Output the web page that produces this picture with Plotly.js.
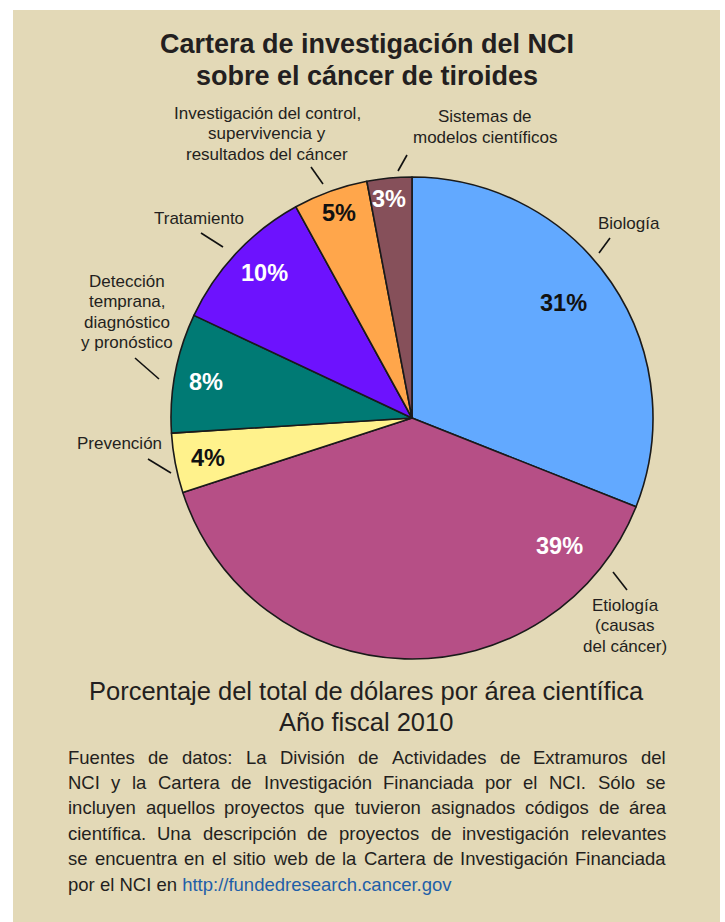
<!DOCTYPE html>
<html><head><meta charset="utf-8">
<script src="https://cdn.plot.ly/plotly-3.0.1.min.js"></script>
<style>html,body{margin:0;padding:0;background:#fff;}#chart{width:725px;height:922px;}</style>
</head><body><div id="chart"></div>
<script>
// ---- data ----
const categories = ["Biología", "Etiología<br>(causas<br>del cáncer)", "Prevención",
  "Detección<br>temprana,<br>diagnóstico<br>y pronóstico", "Tratamiento",
  "Investigación del control,<br>supervivencia y<br>resultados del cáncer",
  "Sistemas de<br>modelos científicos"];
const values = [31, 39, 4, 8, 10, 5, 3];
const sliceColors = ["#62a9ff", "#b64f86", "#fff28c", "#007a74", "#6d12fe", "#ffa64b", "#86505a"];
const percentColors = ["#111111", "#ffffff", "#111111", "#ffffff", "#ffffff", "#111111", "#ffffff"];
const titleLines = ["Cartera de investigación del NCI", "sobre el cáncer de tiroides"];
const subtitleLines = ["Porcentaje del total de dólares por área científica", "Año fiscal 2010"];
const noteLines = [
  "Fuentes de datos: La División de Actividades de Extramuros del",
  "NCI y la Cartera de Investigación Financiada por el NCI. Sólo se",
  "incluyen aquellos proyectos que tuvieron asignados códigos de área",
  "científica. Una descripción de proyectos de investigación relevantes",
  "se encuentra en el sitio web de la Cartera de Investigación Financiada"
];
const noteLastPrefix = "por el NCI en ";
const noteUrl = "http://fundedresearch.cancer.gov";

// ---- layout helpers ----
const W = 725, H = 922;
const px = x => x / W, py = y => 1 - y / H;
const FONT = "Liberation Sans, Arial, Helvetica, sans-serif";
const INK = "#231f20";
const BG = "#e3d9b7";
const annotations = [];
const shapes = [];

function addText(text, x, y, size, opts) {
  opts = opts || {};
  annotations.push({
    xref: "paper", yref: "paper", x: px(x), y: py(y), text: text, showarrow: false,
    xanchor: opts.xanchor || "center", yanchor: "middle",
    font: {family: FONT, size: size, color: opts.color || INK}
  });
}

// background panel
shapes.push({type: "rect", xref: "paper", yref: "paper", x0: px(13), x1: px(720), y0: py(922), y1: py(10),
  fillcolor: BG, line: {width: 0}, layer: "below"});

// title
titleLines.forEach((t, i) => addText("<b>" + t + "</b>", 367, 44 + i * 32, 27));

// outside category labels (positions for each slice label)
const labelPos = [
  {x: 629, y: 223}, {x: 625, y: 605}, {x: 119, y: 443}, {x: 127, y: 281},
  {x: 199, y: 218}, {x: 267, y: 113}, {x: 485, y: 117}
];
const labelStep = 20.5;
categories.forEach((c, i) => {
  c.split("<br>").forEach((ln, j) => addText(ln, labelPos[i].x, labelPos[i].y + j * labelStep, 17));
});

// leader lines
const leaders = [
  [610, 238, 599, 253], [613, 572, 627, 590], [148, 459, 171, 473], [135, 358, 159, 379],
  [201, 233, 223, 247], [311, 167, 323, 184], [407, 155, 398, 171]
];
leaders.forEach(l => shapes.push({type: "line", xref: "paper", yref: "paper",
  x0: px(l[0]), y0: py(l[1]), x1: px(l[2]), y1: py(l[3]), line: {color: "#111", width: 1.6}}));

// percentage labels inside slices
const pctPos = [
  {x: 563, y: 303}, {x: 559, y: 546}, {x: 208, y: 458}, {x: 206, y: 382},
  {x: 264, y: 273}, {x: 339, y: 213}, {x: 389, y: 199}
];
values.forEach((v, i) => addText("<b>" + v + "%</b>", pctPos[i].x, pctPos[i].y, 23.5, {color: percentColors[i]}));

// subtitle
subtitleLines.forEach((t, i) => addText(t, 366, 691 + i * 31, 25.5));

// justified footnote
const NOTE_SIZE = 18.5, NOTE_L = 68, NOTE_R = 666, NOTE_Y0 = 757, NOTE_STEP = 25.4;
const cv = document.createElement("canvas").getContext("2d");
cv.font = NOTE_SIZE + "px 'Liberation Sans', Arial, sans-serif";
noteLines.forEach((ln, i) => {
  const words = ln.split(" ");
  const widths = words.map(w => cv.measureText(w).width);
  const total = widths.reduce((a, b) => a + b, 0);
  const gap = (NOTE_R - NOTE_L - total) / (words.length - 1);
  let x = NOTE_L;
  words.forEach((w, k) => {
    addText(w, x - 2, NOTE_Y0 + i * NOTE_STEP, NOTE_SIZE, {xanchor: "left"});
    x += widths[k] + gap;
  });
});
addText(noteLastPrefix + '<span style="color:#1f5fa8">' + noteUrl + '</span>',
  NOTE_L - 2, NOTE_Y0 + noteLines.length * NOTE_STEP, NOTE_SIZE, {xanchor: "left"});

const trace = {
  type: "pie",
  labels: categories,
  values: values,
  sort: false,
  direction: "clockwise",
  rotation: 0,
  textinfo: "none",
  hoverinfo: "label+percent",
  marker: {colors: sliceColors, line: {color: "#1a1a1a", width: 1.6}},
  domain: {x: [px(171), px(653)], y: [py(659), py(177)]},
  showlegend: false
};

const layout = {
  width: W, height: H,
  margin: {l: 0, r: 0, t: 0, b: 0},
  paper_bgcolor: "#ffffff",
  plot_bgcolor: "rgba(0,0,0,0)",
  showlegend: false,
  annotations: annotations,
  shapes: shapes,
  font: {family: FONT, color: INK}
};

Plotly.newPlot("chart", [trace], layout, {displayModeBar: false, staticPlot: true});
</script>
</body></html>
